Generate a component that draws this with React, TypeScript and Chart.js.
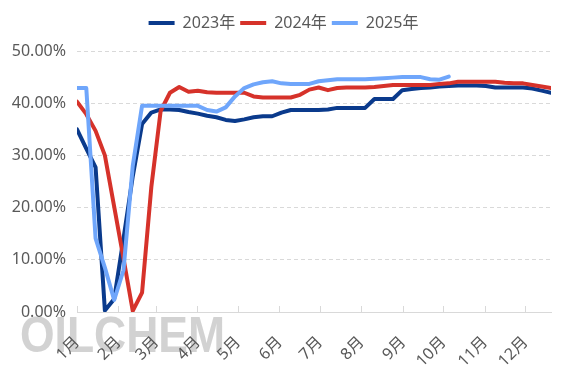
import React, { useEffect, useRef } from 'react';
import { Chart, registerables } from 'chart.js';

Chart.register(...registerables);

const FONT = '"Noto Sans", "Noto Sans CJK SC", sans-serif';
const TEXT_COLOR = '#595959';
const GRID_COLOR = '#d9d9d9';

const seriesNames = ['2023年', '2024年', '2025年'];
const seriesColors = ['#0a3a8c', '#d6322a', '#6fa6fb'];

const monthLabels = ['1月', '2月', '3月', '4月', '5月', '6月', '7月', '8月', '9月', '10月', '11月', '12月'];
const monthStartDays = [0, 31, 59, 90, 120, 151, 181, 212, 243, 273, 304, 334];
// weekly points: 52 points spread over ~353 days
const DAYS_PER_POINT = 353 / 51;

const yMax = 50;
const yStep = 10;

const values2023 = [
  35.0, 31.3, 27.7, 0.3, 2.5, 14.0, 26.0, 36.0, 38.2, 38.8,
  38.8, 38.7, 38.3, 38.0, 37.6, 37.3, 36.8, 36.6, 36.9, 37.3,
  37.5, 37.5, 38.2, 38.7, 38.7, 38.7, 38.7, 38.8, 39.1, 39.1,
  39.1, 39.1, 40.8, 40.8, 40.8, 42.5, 42.7, 42.9, 43.0, 43.2,
  43.3, 43.4, 43.4, 43.4, 43.3, 43.0, 43.0, 43.0, 43.0, 42.8,
  42.4, 42.0,
];

const values2024 = [
  40.3, 37.9, 34.7, 30.0, 20.2, 10.3, 0.2, 3.7, 24.0, 38.5,
  42.0, 43.1, 42.2, 42.4, 42.1, 42.0, 42.0, 42.0, 42.0, 41.3,
  41.1, 41.1, 41.1, 41.1, 41.6, 42.6, 43.0, 42.5, 42.9, 43.0,
  43.0, 43.0, 43.1, 43.3, 43.5, 43.5, 43.5, 43.5, 43.5, 43.7,
  43.8, 44.1, 44.1, 44.1, 44.1, 44.1, 43.9, 43.8, 43.8, 43.5,
  43.2, 42.9,
];

const values2025 = [
  42.9, 42.9, 14.1, 8.5, 2.3, 8.0, 28.0, 39.5, 39.5, 39.5,
  39.5, 39.5, 39.5, 39.5, 38.7, 38.4, 39.2, 41.3, 42.9, 43.6,
  44.0, 44.2, 43.8, 43.7, 43.7, 43.7, 44.2, 44.4, 44.6, 44.6,
  44.6, 44.6, 44.7, 44.8, 44.9, 45.0, 45.0, 45.0, 44.6, 44.5,
  45.1,
];

const allSeries = [values2023, values2024, values2025];

export default function App() {
  const canvasRef = useRef<HTMLCanvasElement | null>(null);

  useEffect(() => {
    const canvas = canvasRef.current;
    if (!canvas) return;

    const watermark = {
      id: 'watermark',
      beforeDraw(chart: any) {
        const ctx = chart.ctx as CanvasRenderingContext2D;
        ctx.save();
        const text = 'OILCHEM';
        ctx.font = 'bold 50px "Liberation Sans", Arial, sans-serif';
        const w = ctx.measureText(text).width;
        const targetW = 205;
        const x0 = 20;
        const baseline = 352;
        const grad = ctx.createLinearGradient(0, baseline - 37, 0, baseline);
        grad.addColorStop(0, '#d2d2d2');
        grad.addColorStop(1, '#f6f6f6');
        ctx.fillStyle = grad;
        ctx.textBaseline = 'alphabetic';
        ctx.translate(x0, baseline);
        ctx.scale(targetW / w, 1);
        ctx.fillText(text, 0, 0);
        ctx.restore();
      },
    };

    const legendSpacer = {
      id: 'legendSpacer',
      beforeUpdate(chart: any) {
        const legend = chart.legend;
        if (legend && !legend.__spaced) {
          const orig = legend.fit;
          legend.fit = function () {
            orig.call(this);
            this.height += 10;
          };
          legend.__spaced = true;
        }
      },
    };

    const datasets = allSeries.map((vals, k) => ({
      label: seriesNames[k],
      data: vals.map((v, i) => ({ x: i, y: v })),
      borderColor: seriesColors[k],
      backgroundColor: seriesColors[k],
      borderWidth: 4,
      borderCapStyle: 'round' as const,
      borderJoinStyle: 'round' as const,
      pointRadius: 0,
      pointHoverRadius: 0,
      tension: 0,
      fill: false,
      order: 2 - k,
    }));

    const chart = new Chart(canvas, {
      type: 'line',
      data: { datasets },
      plugins: [watermark, legendSpacer],
      options: {
        responsive: false,
        animation: false,
        devicePixelRatio: 1,
        layout: { padding: { top: 10, right: 0, bottom: 0, left: 0 } },
        plugins: {
          tooltip: { enabled: false },
          legend: {
            display: true,
            position: 'top',
            labels: {
              usePointStyle: true,
              pointStyle: 'line',
              pointStyleWidth: 26,
              boxHeight: 4,
              padding: 5,
              color: TEXT_COLOR,
              font: { family: FONT, size: 16 },
              sort: (a: any, b: any) => a.datasetIndex - b.datasetIndex,
            },
          },
        },
        scales: {
          x: {
            type: 'linear',
            min: 0,
            max: values2023.length - 1,
            afterBuildTicks: (scale: any) => {
              scale.ticks = monthStartDays.map((d) => ({ value: d / DAYS_PER_POINT }));
            },
            afterFit: (scale: any) => {
              scale.height = 66;
            },
            ticks: {
              autoSkip: false,
              minRotation: 45,
              maxRotation: 45,
              padding: 27,
              color: TEXT_COLOR,
              font: { family: FONT, size: 16 },
              callback: (_v: any, idx: number) => monthLabels[idx],
            },
            grid: {
              drawOnChartArea: false,
              drawTicks: true,
              tickLength: -6,
              color: GRID_COLOR,
              lineWidth: 1,
            },
            border: { display: true, color: GRID_COLOR, width: 1 },
          },
          y: {
            min: 0,
            max: yMax,
            afterFit: (scale: any) => {
              scale.width = 77;
            },
            ticks: {
              stepSize: yStep,
              padding: 11,
              color: TEXT_COLOR,
              font: { family: FONT, size: 16 },
              callback: (v: any) => Number(v).toFixed(2) + '%',
            },
            grid: {
              drawTicks: false,
              color: (ctx: any) => (ctx.tick && ctx.tick.value === 0 ? 'rgba(0,0,0,0)' : GRID_COLOR),
              lineWidth: 1,
            },
            border: { display: false, dash: [4, 3] },
          },
          yRightSpacer: {
            type: 'linear',
            position: 'right',
            display: true,
            min: 0,
            max: yMax,
            afterFit: (scale: any) => {
              scale.width = 16;
            },
            ticks: { display: false },
            grid: { display: false, drawTicks: false },
            border: { display: false },
          },
        },
      },
    });

    return () => chart.destroy();
  }, []);

  return (
    <div style={{ position: 'fixed', left: 0, top: 0, width: 567, height: 378, background: '#ffffff' }}>
      <canvas ref={canvasRef} width={567} height={378} style={{ display: 'block', width: 567, height: 378 }} />
    </div>
  );
}
